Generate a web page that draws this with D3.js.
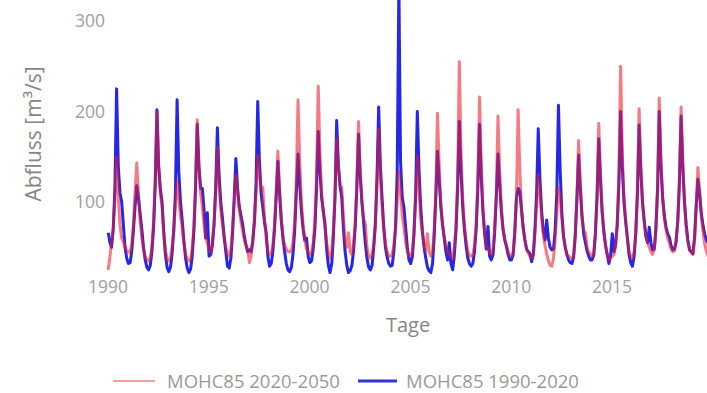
<!DOCTYPE html>
<html>
<head>
<meta charset="utf-8">
<script src="https://cdn.jsdelivr.net/npm/d3@7"></script>
<style>
    body { margin: 0; background: #fff; }
    svg { display: block; font-family: "Open Sans", "Noto Sans", sans-serif; }
</style>
</head>
<body>
<svg id="chart" width="707" height="393"></svg>
<script>
// ---> Data (monthly mean flow, Jan..Dec, one row per year 1990-2019)
const xTickYears = [1990, 1995, 2000, 2005, 2010, 2015];
const yTicks = [100, 200, 300];
const seriesNames = ["MOHC85 2020-2050", "MOHC85 1990-2020"];

const flowRed = [
    25, 40, 55, 72, 105, 150, 105, 75, 60, 56, 50, 46,
    45, 44, 52, 75, 110, 143, 110, 80, 60, 48, 40, 36,
    35, 38, 52, 78, 125, 200, 140, 110, 95, 65, 46, 38,
    35, 38, 50, 68, 95, 123, 105, 85, 72, 55, 43, 37,
    35, 37, 48, 72, 118, 191, 140, 110, 95, 76, 60, 55,
    45, 45, 55, 75, 110, 160, 120, 92, 75, 60, 50, 42,
    40, 48, 70, 100, 130, 110, 92, 78, 68, 58, 52, 48,
    33, 40, 58, 78, 110, 151, 130, 115, 116, 82, 60, 45,
    42, 44, 52, 75, 112, 156, 115, 82, 62, 52, 48, 45,
    45, 46, 55, 78, 125, 213, 145, 100, 75, 58, 48, 45,
    42, 45, 55, 78, 130, 228, 155, 110, 88, 72, 55, 45,
    38, 45, 68, 110, 170, 140, 118, 116, 82, 58, 50, 66,
    45, 42, 52, 75, 120, 189, 135, 100, 82, 76, 50, 40,
    38, 42, 52, 75, 120, 180, 130, 95, 70, 54, 45, 40,
    40, 42, 52, 70, 100, 134, 110, 85, 72, 56, 46, 40,
    40, 45, 65, 100, 150, 115, 82, 65, 52, 46, 65, 45,
    40, 45, 68, 110, 198, 140, 98, 75, 62, 52, 45, 42,
    40, 38, 50, 72, 125, 255, 155, 105, 75, 58, 46, 40,
    40, 42, 52, 75, 122, 216, 145, 95, 68, 52, 48, 44,
    42, 48, 70, 110, 195, 135, 95, 70, 60, 52, 45, 40,
    40, 45, 68, 105, 202, 135, 92, 70, 58, 48, 44, 40,
    38, 42, 65, 95, 130, 110, 82, 64, 52, 43, 35, 30,
    29, 38, 58, 88, 116, 105, 82, 62, 50, 42, 40, 38,
    38, 42, 65, 105, 168, 120, 85, 69, 66, 50, 45, 42,
    40, 45, 65, 105, 187, 130, 88, 66, 52, 42, 36, 38,
    40, 42, 52, 75, 130, 250, 155, 105, 80, 60, 45, 40,
    38, 45, 65, 110, 203, 140, 100, 78, 63, 55, 50, 45,
    42, 48, 70, 115, 215, 145, 105, 82, 70, 60, 55, 48,
    45, 46, 55, 78, 125, 205, 145, 100, 72, 56, 48, 44,
    42, 58, 95, 138, 112, 85, 68, 54, 46, 40, 38, 36
];

const flowBlue = [
    66, 55, 50, 70, 115, 225, 140, 110, 100, 75, 50, 38,
    32, 33, 45, 68, 95, 118, 105, 87, 70, 50, 36, 28,
    25, 30, 45, 72, 120, 202, 140, 115, 100, 68, 42, 28,
    23, 28, 42, 68, 110, 213, 135, 100, 80, 58, 38, 27,
    22, 26, 40, 68, 115, 186, 140, 115, 115, 92, 60, 88,
    40, 42, 52, 75, 115, 182, 130, 100, 82, 62, 45, 29,
    27, 38, 65, 105, 148, 115, 95, 85, 75, 62, 52, 45,
    47, 45, 55, 78, 120, 211, 145, 110, 94, 78, 66, 40,
    29, 32, 45, 70, 105, 145, 110, 80, 60, 45, 32, 25,
    23, 28, 42, 68, 110, 153, 120, 90, 70, 58, 60, 40,
    33, 35, 48, 70, 115, 178, 135, 105, 90, 76, 48, 30,
    22, 32, 60, 105, 190, 140, 118, 105, 70, 45, 30, 22,
    24, 30, 45, 72, 115, 175, 130, 100, 78, 55, 38, 28,
    25, 30, 48, 75, 125, 205, 140, 105, 72, 50, 39, 32,
    29, 30, 45, 72, 130, 340, 145, 105, 94, 72, 50, 36,
    32, 40, 65, 110, 200, 135, 95, 68, 50, 38, 28, 24,
    22, 32, 60, 105, 156, 125, 95, 75, 60, 45, 36, 55,
    32, 25, 40, 68, 115, 189, 135, 95, 70, 52, 38, 32,
    29, 32, 45, 70, 115, 186, 130, 90, 65, 48, 73, 40,
    36, 42, 65, 105, 153, 120, 90, 70, 58, 51, 42, 36,
    36, 42, 65, 105, 115, 112, 92, 72, 58, 48, 45, 43,
    34, 42, 68, 110, 181, 125, 90, 68, 58, 80, 60, 50,
    47, 48, 68, 110, 207, 135, 88, 62, 50, 42, 36, 33,
    32, 40, 62, 105, 152, 115, 85, 65, 55, 46, 40, 36,
    36, 42, 65, 108, 170, 125, 90, 68, 52, 42, 32, 40,
    65, 45, 52, 75, 120, 200, 140, 100, 78, 61, 42, 33,
    29, 40, 65, 110, 185, 135, 100, 80, 62, 55, 72, 55,
    47, 48, 70, 115, 200, 140, 105, 85, 72, 65, 61, 52,
    47, 48, 56, 78, 120, 195, 140, 100, 75, 58, 47, 45,
    43, 62, 95, 125, 110, 88, 75, 65, 58, 55, 50, 45
];

// ---> Layout
const svg = d3.select("#chart");
const width = +svg.attr("width");
const height = +svg.attr("height");
const plotLeft = 105;
const plotBottom = 292;

// mid-month dates for each value
const months = d3.timeMonth.range(new Date(1990, 0, 1), new Date(2020, 0, 1))
    .map(d => new Date(d.getFullYear(), d.getMonth(), 15));

const x = d3.scaleTime()
    .domain([new Date(1990, 0, 1), new Date(2015, 0, 1)])
    .range([107.5, 611.5]);
const y = d3.scaleLinear()
    .domain([100, 300])
    .range([202, 21]);

svg.append("rect").attr("width", width).attr("height", height).attr("fill", "#fff");

svg.append("clipPath").attr("id", "plotClip")
    .append("rect")
    .attr("x", plotLeft)
    .attr("y", 0)
    .attr("width", width - plotLeft)
    .attr("height", plotBottom);

// axes
const xAxis = d3.axisBottom(x)
    .tickValues(xTickYears.map(yr => new Date(yr, 0, 1)))
    .tickFormat(d3.timeFormat("%Y"))
    .tickSize(0)
    .tickPadding(0);
svg.append("g")
    .attr("transform", "translate(0,281)")
    .call(xAxis)
    .call(g => g.select(".domain").remove())
    .selectAll("text")
    .attr("font-size", 17.5)
    .attr("font-family", "Open Sans")
    .attr("fill", "#a0a0a0");

const yAxis = d3.axisLeft(y).tickValues(yTicks).tickSize(0).tickPadding(0);
svg.append("g")
    .attr("transform", "translate(105,0)")
    .call(yAxis)
    .call(g => g.select(".domain").remove())
    .selectAll("text")
    .attr("font-size", 17.5)
    .attr("font-family", "Open Sans")
    .attr("fill", "#a0a0a0");

// lines: blue underneath, translucent red on top gives the purple overlap
const line = d3.line()
    .x((d, i) => x(months[i]))
    .y(d => y(d));

const lines = svg.append("g").attr("clip-path", "url(#plotClip)");

lines.append("path")
    .datum(flowBlue)
    .attr("d", line)
    .attr("fill", "none")
    .attr("stroke", "#2626e6")
    .attr("stroke-width", 3)
    .attr("stroke-linejoin", "round");

lines.append("path")
    .datum(flowRed)
    .attr("d", line)
    .attr("fill", "none")
    .attr("stroke", "#f01a2a")
    .attr("stroke-opacity", 0.58)
    .attr("stroke-width", 3)
    .attr("stroke-linejoin", "round");

// titles
svg.append("text")
    .attr("x", 408)
    .attr("y", 332)
    .attr("text-anchor", "middle")
    .attr("font-size", 20)
    .attr("fill", "#858585")
    .text("Tage");

svg.append("text")
    .attr("transform", "translate(41,134) rotate(-90)")
    .attr("text-anchor", "middle")
    .attr("font-size", 21)
    .attr("fill", "#858585")
    .text("Abfluss [m³/s]");

// legend
const legend = svg.append("g").attr("transform", "translate(0,381)");
legend.append("line")
    .attr("x1", 113).attr("x2", 155)
    .attr("stroke", "#f08080").attr("stroke-width", 1.6);
legend.append("text")
    .attr("x", 167).attr("y", 6.5)
    .attr("font-size", 18.5)
    .attr("fill", "#9a9a9a")
    .text(seriesNames[0]);
legend.append("line")
    .attr("x1", 358).attr("x2", 397)
    .attr("stroke", "#3434d0").attr("stroke-width", 3.2);
legend.append("text")
    .attr("x", 406).attr("y", 6.5)
    .attr("font-size", 18.5)
    .attr("fill", "#9a9a9a")
    .text(seriesNames[1]);
</script>
</body>
</html>
